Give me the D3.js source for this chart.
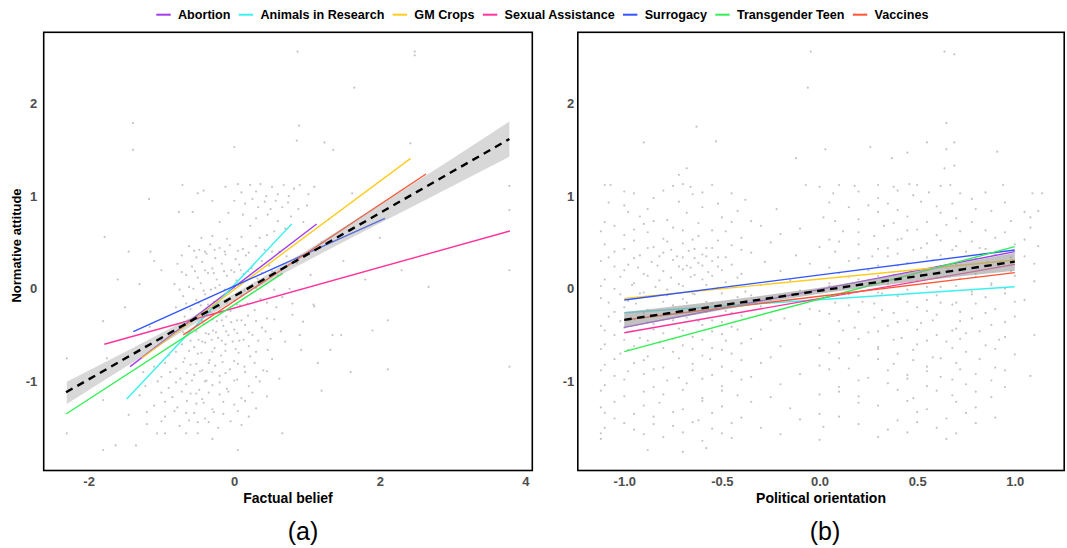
<!DOCTYPE html>
<html><head><meta charset="utf-8">
<script src="https://cdn.jsdelivr.net/npm/d3@7"></script>
<style>body{margin:0;background:#fff;} svg{display:block;font-family:"Liberation Sans",Arial,Helvetica,sans-serif;}</style>
</head><body><svg id="chart" width="1067" height="548"></svg>
<script>
// ---------- data ----------
const topics = ["Abortion","Animals in Research","GM Crops","Sexual Assistance","Surrogacy","Transgender Teen","Vaccines"];
const topicColors = ["#A23BEC","#3DF0F0","#FFCC22","#FF3399","#3355FF","#33EE55","#FF5533"];

// panel (a): per-topic fits, Factual belief -> Normative attitude
const beliefFitX = [[-1.431,1.133],[-1.477,0.790],[-1.271,2.424],[-1.784,3.788],[-1.386,2.071],[-2.310,0.666],[-0.699,2.635]];
const beliefFitY = [[-0.840,0.699],[-1.189,0.699],[-0.750,1.408],[-0.599,0.624],[-0.462,0.761],[-1.351,0.167],[-0.498,1.239]];
const beliefOverallX = [-2.31, 3.78];
const beliefOverallY = [-1.117, 1.616];
const beliefBandX  = [-2.3,-1.5,-1,-0.5,0,0.5,1,1.5,2,2.5,3,3.78];
const beliefBandLo = [-1.243,-0.847,-0.601,-0.358,-0.126,0.092,0.301,0.505,0.708,0.908,1.109,1.426];
const beliefBandHi = [-1.003,-0.681,-0.477,-0.270,-0.054,0.176,0.417,0.661,0.908,1.156,1.405,1.806];

// panel (b): per-topic fits, Political orientation -> Normative attitude
const politicsFitX = [[-1,1],[-1,1],[-1,1],[-1,1],[-1,1],[-1,1],[-1,1]];
const politicsFitY = [[-0.416,0.401],[-0.258,0.022],[-0.103,0.311],[-0.474,0.264],[-0.121,0.419],[-0.678,0.455],[-0.337,0.174]];
const politicsOverallX = [-1, 1];
const politicsOverallY = [-0.335, 0.293];
const politicsBandX  = [-1,-0.75,-0.5,-0.25,0,0.25,0.5,0.75,1];
const politicsBandLo = [-0.420,-0.323,-0.228,-0.138,-0.053,0.018,0.081,0.140,0.196];
const politicsBandHi = [-0.250,-0.191,-0.128,-0.062,0.011,0.098,0.191,0.290,0.390];

const beliefTicks = [-2,0,2,4];
const politicsTicks = [-1,-0.5,0,0.5,1];
const attitudeTicks = [-1,0,1,2];
const xTitles = ["Factual belief","Political orientation"];
const yTitle = "Normative attitude";
const panelLabels = ["(a)","(b)"];

const beliefPoints = [
[0.87,2.56],[2.48,2.56],[2.48,2.52],[1.65,2.17],[-1.39,1.79],[-1.39,1.5],[0.89,1.76],[0.86,1.6],[1.24,1.58],[1.36,1.5],[0,1.53],[2.42,1.57],[1.62,1.03],[-1.78,0.56],[3.78,1.11],[3.78,0.85],[3.78,0.2],[3.78,-0.84],[2.11,-0.87],[2.67,0.02],[2.11,-0.34],[-1.17,0.97],[-1.15,0.4],[-0.71,1.12],[-0.5,1.03],[-0.57,0.83],[-0.76,0.83],
[-0.12,1.1],[0.05,1.13],[0.1,1.04],[0.22,1.12],[0.3,1.05],[0.36,1.13],[0.44,1.0],[0.52,1.1],[0.6,1.02],[0.68,1.12],[0.75,1.0],[0.82,1.08],[0.9,1.12],[1.02,1.02],[1.1,1.1],[0.0,0.95],[0.15,0.92],[0.25,0.97],[0.33,0.88],[0.42,0.94],[0.5,0.86],[0.57,0.95],[0.66,0.88],[0.74,0.93],[0.88,0.86],[1.0,0.9],[0.12,0.8],[0.3,0.76],[0.46,0.8],[0.6,0.73],[0.78,0.78],[0.95,0.72],[-0.08,0.82],[0.22,0.68],[0.55,0.62],[0.7,0.65],[-0.3,0.95],[-0.42,1.06],[-0.2,0.72],
[-0.62,0.46],[-0.48,0.42],[-0.33,0.48],[-0.2,0.44],[-0.06,0.47],[0.12,0.43],[0.3,0.46],[0.52,0.4],
[-0.72,0.36],[-0.52,0.34],[-0.38,0.38],[-0.26,0.33],[-0.12,0.37],[0.02,0.32],[0.16,0.36],[0.38,0.3],[0.72,0.35],
[-0.78,0.27],[-0.58,0.24],[-0.44,0.29],[-0.3,0.22],[-0.17,0.27],[-0.04,0.2],[0.07,0.26],[0.24,0.22],[0.48,0.25],[0.86,0.28],
[-0.66,0.15],[-0.5,0.12],[-0.36,0.17],[-0.24,0.1],[-0.1,0.14],[0.03,0.09],[0.13,0.16],[0.32,0.11],[0.6,0.14],
[-0.82,0.05],[-0.62,0.02],[-0.46,0.06],[-0.32,-0.01],[-0.2,0.04],[-0.07,-0.03],[0.06,0.03],[0.2,-0.02],[0.44,0.05],[0.76,0.0],
[-0.7,-0.08],[-0.52,-0.12],[-0.4,-0.06],[-0.28,-0.14],[-0.16,-0.09],[0.0,-0.13],[0.1,-0.07],[0.36,-0.11],[0.66,-0.09],
[-0.8,-0.2],[-0.6,-0.22],[-0.46,-0.18],[-0.33,-0.25],[-0.2,-0.2],[-0.05,-0.24],[0.08,-0.18],[0.28,-0.23],[0.58,-0.2],[1.1,-0.19],
[-0.68,-0.3],[-0.5,-0.33],[-0.37,-0.28],[-0.24,-0.35],[-0.11,-0.3],[0.04,-0.34],[0.19,-0.29],[0.45,-0.32],[0.8,-0.28],
[-0.75,-0.4],[-0.56,-0.43],[-0.42,-0.38],[-0.29,-0.45],[-0.15,-0.4],[0.0,-0.44],[0.15,-0.39],[0.38,-0.42],[0.64,-0.46],
[-0.64,-0.5],[-0.49,-0.55],[-0.35,-0.49],[-0.22,-0.53],[-0.08,-0.5],[0.07,-0.56],[0.25,-0.5],[0.5,-0.54],[0.9,-0.5],
[-0.72,-0.6],[-0.55,-0.63],[-0.4,-0.58],[-0.27,-0.64],[-0.12,-0.6],[0.02,-0.65],[0.2,-0.62],[0.46,-0.66],
[-0.9,-0.72],[-0.68,-0.75],[-0.5,-0.7],[-0.34,-0.77],[-0.18,-0.72],[0.0,-0.78],[0.22,-0.73],[0.52,-0.76],
[-1.1,-0.84],[-0.8,-0.86],[-0.6,-0.82],[-0.44,-0.88],[-0.26,-0.83],[-0.06,-0.87],[0.14,-0.84],[0.4,-0.88],
[-1.0,-0.95],[-0.74,-0.97],[-0.55,-0.93],[-0.38,-0.99],[-0.2,-0.94],[0.04,-0.98],[0.3,-0.95],[0.62,-0.97],
[-1.22,-1.05],[-0.9,-1.07],[-0.66,-1.03],[-0.48,-1.09],[-0.3,-1.04],[-0.1,-1.08],[0.2,-1.05],
[-1.3,-1.15],[-0.85,-1.17],[-0.6,-1.13],[-0.44,-1.19],[-0.2,-1.14],[0.1,-1.18],[0.45,-1.16],
[-1.1,-1.26],[-0.78,-1.28],[-0.52,-1.24],[-0.3,-1.3],[0.0,-1.25],[0.3,-1.29],
[-1.45,-1.36],[-0.95,-1.38],[-0.66,-1.34],[-0.4,-1.4],[-0.15,-1.35],[0.2,-1.38],
[-1.2,-1.46],[-0.75,-1.48],[-0.5,-1.44],[-0.22,-1.5],[0.1,-1.47],
[-1.06,-1.56],[-0.95,-1.56],[-0.66,-1.56],[-0.5,-1.56],[0.66,-1.56],[-2.3,-1.56],
[-1.8,-1.74],[-1.63,-1.69],[-1.35,-1.69],[0.05,-1.74],[-0.3,-1.62],
[-1.8,-1.2],[-1.8,-0.35],[-1.16,-0.41],[-1.5,-0.2],[-1.3,0.05],[-1.1,0.3],[-1.45,0.4],[-1.0,-0.55],[-1.75,-0.75],[-2.3,-0.75],[-1.0,0.2],[-1.25,-0.9],[-1.6,0.1],
[0.92,-0.66],[1.32,-0.66],[1.09,-0.17],[0.945,-0.355],[1.47,-0.5],[1.2,0.5],[1.5,0.3],[1.35,-0.5],[1.8,0.1],[1.3,0.75],[2.0,0.55],[1.15,-0.8],[1.9,-0.45],[2.3,0.2],[1.05,0.15],[1.6,-0.9],[1.2,-1.1],
[-0.55,0.41],[-0.4,0.4],[-0.27,0.42],[-0.13,0.4],[0.05,0.41],[0.2,0.39],[0.42,0.42],[0.62,0.4],
[-0.45,0.55],[-0.3,0.57],[-0.1,0.54],[0.1,0.56],[0.35,0.55],[0.45,0.58],
[-0.72,0.18],[-0.54,0.19],[-0.4,0.2],[-0.28,0.17],[-0.14,0.19],[0.0,0.18],[0.09,0.2],[0.19,0.19],[0.38,0.17],[0.52,0.19],
[-0.75,-0.01],[-0.56,0.0],[-0.42,-0.02],[-0.26,0.01],[-0.13,-0.01],[0.01,0.0],[0.14,-0.02],[0.3,0.01],[0.55,-0.01],
[-0.66,-0.16],[-0.49,-0.15],[-0.36,-0.17],[-0.24,-0.16],[-0.1,-0.15],[0.04,-0.17],[0.18,-0.16],[0.45,-0.15],[0.8,-0.16],
[-0.62,-0.34],[-0.44,-0.35],[-0.3,-0.33],[-0.17,-0.34],[-0.04,-0.36],[0.1,-0.34],[0.3,-0.35],[0.55,-0.33],
[-0.7,-0.47],[-0.52,-0.46],[-0.39,-0.48],[-0.25,-0.47],[-0.11,-0.46],[0.04,-0.48],[0.2,-0.47],[0.43,-0.46],
[-0.6,-0.56],[-0.44,-0.57],[-0.31,-0.55],[-0.17,-0.56],[-0.02,-0.57],[0.13,-0.55],[0.33,-0.56],[0.7,-0.57],
[-0.8,-0.68],[-0.62,-0.67],[-0.45,-0.69],[-0.3,-0.68],[-0.12,-0.67],[0.06,-0.69],[0.3,-0.68],
[-0.95,-0.8],[-0.7,-0.79],[-0.52,-0.81],[-0.35,-0.8],[-0.16,-0.79],[0.05,-0.81],[0.28,-0.8],
[-0.88,-0.9],[-0.65,-0.91],[-0.47,-0.89],[-0.3,-0.9],[-0.12,-0.91],[0.15,-0.9],[0.45,-0.89],
[-1.05,-1.0],[-0.8,-1.01],[-0.58,-0.99],[-0.4,-1.0],[-0.2,-1.01],[0.0,-0.99],[0.35,-1.0],
[-1.0,-1.12],[-0.72,-1.11],[-0.52,-1.13],[-0.35,-1.12],[-0.08,-1.11],[0.25,-1.12],
[-0.95,-1.22],[-0.65,-1.21],[-0.42,-1.23],[-0.15,-1.22],[0.15,-1.21],
[-1.2,-1.33],[-0.82,-1.32],[-0.55,-1.34],[-0.28,-1.33],[0.05,-1.32],
[-1.0,-1.43],[-0.62,-1.42],[-0.35,-1.44],[-0.05,-1.43]
];

const politicsPoints = [
[-0.045,2.56],[-0.06,2.17],[0.64,2.56],[0.69,2.53],[0.65,1.79],[-0.63,1.75],[-0.90,1.58],[-0.53,1.59],[0.03,1.505],[0.26,1.53],[0.55,1.58],[0.69,1.58],[0.65,1.505],[0.91,1.48],[-0.12,1.41],[0.45,1.47],[0.37,1.41],[-0.72,1.23],[-0.68,1.3],[0.69,1.33],[0.64,1.3],[1.09,1.03],[1.14,1.03],[1.12,0.84],[1.08,0.77],
[-1.1,1.12],[-1.07,1.12],[-0.75,1.11],[-0.7,1.13],[-0.66,1.1],[-0.55,1.12],[-0.07,1.12],[0.0,1.1],[0.1,1.12],[0.18,1.11],[0.3,1.12],[0.38,1.1],[0.46,1.13],[0.5,1.12],[0.62,1.11],[0.67,1.12],[0.94,1.12],
[-0.95,1.03],[-0.85,0.98],[-0.65,1.02],[-0.45,1.03],[-0.38,0.96],[0.07,1.03],[0.3,0.98],[0.48,1.01],[0.72,1.03],[0.78,0.97],[0.56,1.04],
[-1.0,0.9],[-0.88,0.86],[-0.6,0.88],[-0.22,0.86],[0.15,0.88],[0.25,0.9],[0.4,0.85],[0.6,0.89],[0.8,0.86],[0.35,0.92],
[-0.92,0.78],[-0.78,0.74],[-0.5,0.77],[-0.35,0.73],[0.02,0.77],[0.2,0.75],[0.45,0.78],[0.55,0.72],[0.7,0.76],
[-1.05,0.68],[-0.95,0.64],[-0.9,0.7],[-0.75,0.66],[-0.55,0.63],[-0.3,0.68],[-0.1,0.65],[0.12,0.62],[0.33,0.68],[0.5,0.64],[0.65,0.69],[0.85,0.63],[1.08,0.66],
[-1.0,0.58],[-0.8,0.54],[-0.62,0.57],[-0.4,0.55],[-0.2,0.59],[0.05,0.53],[0.28,0.57],[0.42,0.54],[0.6,0.58],[0.9,0.55],
[-1.1,0.48],[-0.85,0.45],[-0.7,0.49],[-0.58,0.44],[-0.45,0.47],[-0.25,0.5],[0.0,0.45],[0.2,0.48],[0.35,0.44],[0.55,0.49],[0.7,0.46],[0.82,0.44],[1.0,0.48],[1.12,0.46],
[-1.05,0.4],[-0.92,0.36],[-0.8,0.39],[-0.73,0.35],[-0.67,0.41],[-0.6,0.37],[-0.52,0.34],[-0.35,0.39],[-0.12,0.36],[0.08,0.4],[0.27,0.35],[0.4,0.38],[0.48,0.42],[0.62,0.36],[0.75,0.4],[0.9,0.37],[1.05,0.35],
[-1.12,0.3],[-0.98,0.26],[-0.86,0.29],[-0.75,0.31],[-0.68,0.25],[-0.62,0.28],[-0.55,0.3],[-0.45,0.26],[-0.28,0.29],[-0.05,0.27],[0.15,0.3],[0.3,0.25],[0.45,0.28],[0.58,0.31],[0.7,0.26],[0.86,0.29],[1.1,0.27],
[-1.0,0.2],[-0.9,0.16],[-0.8,0.19],[-0.7,0.21],[-0.64,0.15],[-0.57,0.18],[-0.5,0.2],[-0.4,0.16],[-0.2,0.19],[0.1,0.17],[0.25,0.2],[0.38,0.15],[0.52,0.18],[0.66,0.21],[0.8,0.16],[0.98,0.19],
[-1.1,0.1],[-0.95,0.06],[-0.82,0.09],[-0.72,0.05],[-0.6,0.1],[-0.48,0.07],[-0.3,0.04],[-0.15,0.09],[0.05,0.06],[0.2,0.1],[0.35,0.05],[0.5,0.08],[0.72,0.11],[0.88,0.06],[1.1,0.08],
[-1.05,0.0],[-0.9,-0.04],[-0.78,-0.01],[-0.65,-0.05],[-0.52,0.01],[-0.38,-0.03],[-0.1,-0.02],[0.12,0.0],[0.3,-0.04],[0.45,-0.01],[0.62,0.02],[0.78,-0.03],[0.95,0.0],
[-1.12,-0.1],[-0.98,-0.13],[-0.85,-0.08],[-0.7,-0.11],[-0.58,-0.14],[-0.42,-0.09],[-0.25,-0.12],[0.02,-0.1],[0.22,-0.14],[0.4,-0.08],[0.55,-0.12],[0.7,-0.15],[0.85,-0.09],[1.05,-0.12],
[-1.0,-0.2],[-0.88,-0.23],[-0.75,-0.18],[-0.62,-0.21],[-0.48,-0.24],[-0.3,-0.19],[-0.05,-0.22],[0.15,-0.18],[0.32,-0.23],[0.5,-0.2],[0.68,-0.17],[0.9,-0.22],
[-1.08,-0.3],[-0.95,-0.33],[-0.8,-0.28],[-0.68,-0.31],[-0.55,-0.34],[-0.4,-0.29],[-0.18,-0.32],[0.05,-0.27],[0.28,-0.31],[0.45,-0.34],[0.6,-0.28],[0.78,-0.32],[1.0,-0.3],
[-1.12,-0.4],[-1.0,-0.42],[-0.85,-0.38],[-0.72,-0.43],[-0.6,-0.39],[-0.45,-0.41],[-0.3,-0.44],[-0.1,-0.38],[0.18,-0.42],[0.35,-0.4],[0.52,-0.37],[0.7,-0.43],[0.88,-0.39],
[-1.05,-0.5],[-0.92,-0.53],[-0.8,-0.48],[-0.65,-0.52],[-0.5,-0.49],[-0.35,-0.54],[0.0,-0.5],[0.25,-0.47],[0.42,-0.53],[0.6,-0.5],[0.75,-0.48],[0.95,-0.52],[1.1,-0.5],
[-1.1,-0.6],[-0.95,-0.62],[-0.82,-0.58],[-0.7,-0.61],[-0.55,-0.64],[-0.4,-0.59],[-0.2,-0.62],[0.1,-0.58],[0.3,-0.63],[0.5,-0.6],[0.65,-0.57],[0.85,-0.61],
[-1.02,-0.7],[-0.88,-0.73],[-0.75,-0.68],[-0.6,-0.72],[-0.45,-0.7],[-0.25,-0.74],[0.05,-0.69],[0.2,-0.72],[0.4,-0.7],[0.58,-0.74],[0.75,-0.68],[1.0,-0.71],
[-1.1,-0.82],[-0.95,-0.8],[-0.8,-0.85],[-0.65,-0.81],[-0.5,-0.84],[-0.3,-0.8],[0.0,-0.83],[0.15,-0.86],[0.38,-0.81],[0.55,-0.84],[0.7,-0.8],[0.9,-0.85],
[-1.05,-0.94],[-0.9,-0.92],[-0.72,-0.96],[-0.55,-0.93],[-0.35,-0.95],[-0.1,-0.92],[0.25,-0.96],[0.45,-0.93],[0.62,-0.95],[0.8,-0.92],[1.08,-0.94],
[-1.1,-1.04],[-0.85,-1.06],[-0.68,-1.02],[-0.5,-1.05],[-0.2,-1.03],[0.1,-1.06],[0.35,-1.02],[0.55,-1.05],[0.75,-1.03],[0.95,-1.06],
[-1.0,-1.16],[-0.8,-1.14],[-0.6,-1.18],[-0.42,-1.15],[-0.25,-1.17],[0.0,-1.14],[0.2,-1.16],[0.48,-1.18],[0.68,-1.15],[0.88,-1.17],
[-1.12,-1.28],[-0.9,-1.26],[-0.7,-1.3],[-0.5,-1.27],[-0.15,-1.29],[0.3,-1.26],[0.55,-1.3],[0.8,-1.28],
[-1.05,-1.4],[-0.85,-1.38],[-0.62,-1.42],[-0.4,-1.39],[-0.1,-1.41],[0.1,-1.38],[0.4,-1.42],[0.65,-1.4],[0.9,-1.39],
[-1.1,-1.5],[-0.95,-1.52],[-0.75,-1.48],[-0.55,-1.51],[-0.3,-1.5],[0.02,-1.49],[0.35,-1.52],[0.6,-1.5],
[-1.12,-1.62],[-0.8,-1.6],[-0.6,-1.64],[-0.45,-1.61],[0.0,-1.63],[0.3,-1.6],[0.65,-1.62],
[-0.88,-1.74],[-0.7,-1.76],[-0.58,-1.72],
[-1.0,1.05],[-0.8,1.06],[-0.6,1.04],[0.2,1.05],[0.4,1.06],[0.85,1.04],
[-1.08,0.93],[-0.72,0.94],[-0.52,0.92],[0.05,0.93],[0.52,0.94],[0.68,0.92],[0.95,0.93],
[-0.98,0.83],[-0.68,0.82],[-0.42,0.84],[0.3,0.83],[0.62,0.82],[0.88,0.84],[1.05,0.83],
[-1.1,0.72],[-0.85,0.73],[-0.62,0.71],[-0.45,0.72],[0.08,0.73],[0.38,0.71],[0.78,0.72],[0.98,0.73],
[-1.12,0.62],[-0.88,0.61],[-0.7,0.63],[-0.48,0.62],[0.2,0.61],[0.45,0.63],[0.72,0.62],[0.95,0.61],
[-0.95,0.52],[-0.78,0.51],[-0.65,0.53],[-0.52,0.52],[0.1,0.51],[0.4,0.53],[0.62,0.52],[0.78,0.51],[1.05,0.53],
[-1.0,0.43],[-0.88,0.44],[-0.76,0.42],[-0.64,0.43],[-0.55,0.44],[-0.4,0.42],[0.3,0.43],[0.52,0.44],[0.68,0.42],[0.85,0.43],
[-1.08,0.34],[-0.95,0.33],[-0.82,0.35],[-0.7,0.34],[-0.64,0.33],[-0.58,0.35],[-0.48,0.34],[0.2,0.33],[0.35,0.35],[0.55,0.34],[0.8,0.33],[0.98,0.34],
[-1.05,0.24],[-0.93,0.23],[-0.83,0.25],[-0.72,0.24],[-0.66,0.23],[-0.6,0.25],[-0.52,0.24],[0.05,0.23],[0.4,0.25],[0.62,0.24],[0.75,0.23],[0.92,0.25],
[-1.02,0.13],[-0.88,0.14],[-0.76,0.12],[-0.66,0.13],[-0.55,0.14],[-0.42,0.12],[0.15,0.13],[0.3,0.14],[0.6,0.12],[0.8,0.13],[1.0,0.14],
[-1.12,0.03],[-0.96,0.04],[-0.84,0.02],[-0.7,0.03],[-0.58,0.04],[-0.45,0.02],[0.05,0.03],[0.25,0.04],[0.55,0.02],[0.7,0.03],[0.88,0.04],
[-1.02,-0.06],[-0.92,-0.05],[-0.78,-0.07],[-0.64,-0.06],[-0.5,-0.05],[-0.35,-0.07],[0.15,-0.06],[0.32,-0.05],[0.6,-0.07],[0.78,-0.06],[0.95,-0.05],
[-1.08,-0.15],[-0.94,-0.16],[-0.8,-0.14],[-0.68,-0.15],[-0.55,-0.16],[-0.38,-0.14],[0.08,-0.15],[0.28,-0.16],[0.45,-0.14],[0.62,-0.15],[0.8,-0.16],[1.0,-0.14],
[-1.05,-0.25],[-0.9,-0.26],[-0.72,-0.24],[-0.58,-0.25],[-0.45,-0.26],[0.0,-0.24],[0.2,-0.25],[0.38,-0.26],[0.55,-0.24],[0.72,-0.25],[0.85,-0.26],
[-1.02,-0.35],[-0.88,-0.36],[-0.75,-0.34],[-0.62,-0.35],[-0.5,-0.36],[-0.25,-0.34],[0.1,-0.35],[0.4,-0.36],[0.58,-0.34],[0.72,-0.35],[0.95,-0.36],
[-1.1,-0.45],[-0.96,-0.46],[-0.85,-0.44],[-0.7,-0.45],[-0.55,-0.46],[-0.42,-0.44],[0.12,-0.45],[0.3,-0.46],[0.5,-0.44],[0.68,-0.45],[0.82,-0.46],
[-1.0,-0.55],[-0.88,-0.56],[-0.75,-0.54],[-0.6,-0.55],[-0.48,-0.56],[0.2,-0.54],[0.38,-0.55],[0.55,-0.56],[0.72,-0.54],[0.92,-0.55],
[-1.12,-0.65],[-0.98,-0.66],[-0.8,-0.64],[-0.65,-0.65],[-0.5,-0.66],[0.0,-0.64],[0.3,-0.65],[0.48,-0.66],[0.68,-0.64],[0.9,-0.65],
[-1.05,-0.76],[-0.9,-0.77],[-0.72,-0.75],[-0.56,-0.76],[-0.4,-0.77],[0.1,-0.75],[0.3,-0.76],[0.48,-0.77],[0.62,-0.75],[0.82,-0.76],
[-1.12,-0.88],[-0.98,-0.89],[-0.85,-0.87],[-0.65,-0.88],[-0.45,-0.89],[0.05,-0.87],[0.35,-0.88],[0.55,-0.89],[0.72,-0.87],[0.95,-0.88],
[-1.0,-0.98],[-0.78,-0.99],[-0.6,-0.97],[-0.4,-0.98],[0.2,-0.99],[0.45,-0.97],[0.68,-0.98],[0.88,-0.99],
[-1.12,-1.1],[-0.9,-1.11],[-0.7,-1.09],[-0.5,-1.1],[0.1,-1.11],[0.4,-1.09],[0.6,-1.1],[0.8,-1.11],
[-1.05,-1.22],[-0.82,-1.23],[-0.6,-1.21],[-0.35,-1.22],[0.2,-1.23],[0.45,-1.21],[0.7,-1.22],
[-1.1,-1.34],[-0.95,-1.35],[-0.75,-1.33],[-0.55,-1.34],[0.0,-1.35],[0.5,-1.33],[0.75,-1.34],
[-1.0,-1.45],[-0.85,-1.46],[-0.65,-1.44],[-0.45,-1.45],[0.2,-1.46],[0.5,-1.44],[0.8,-1.45],
[-1.12,-1.56],[-0.9,-1.57],[-0.7,-1.55],[-0.5,-1.56],[-0.2,-1.57],[0.45,-1.55],[0.7,-1.56]
];

// ---------- drawing ----------
const svg = d3.select("#chart");
const plotTop = 32.3, plotBottom = 470.5;
const yScale = d3.scaleLinear().domain([-1.961, 2.768]).range([plotBottom, plotTop]);

const panels = [
  { x: d3.scaleLinear().domain([-2.617, 4.095]).range([43.7, 532.3]),
    ticks: beliefTicks, fmt: d => String(d), ylabPad: 6.4,
    points: beliefPoints, fitX: beliefFitX, fitY: beliefFitY,
    oX: beliefOverallX, oY: beliefOverallY,
    bX: beliefBandX, bLo: beliefBandLo, bHi: beliefBandHi, bandOpacity: 0.38,
    title: xTitles[0], label: panelLabels[0], labelX: 303 },
  { x: d3.scaleLinear().domain([-1.238, 1.253]).range([577.8, 1064.2]),
    ticks: politicsTicks, fmt: d => d.toFixed(1), ylabPad: 3.5,
    points: politicsPoints, fitX: politicsFitX, fitY: politicsFitY,
    oX: politicsOverallX, oY: politicsOverallY,
    bX: politicsBandX, bLo: politicsBandLo, bHi: politicsBandHi, bandOpacity: 0.6,
    title: xTitles[1], label: panelLabels[1], labelX: 825 }
];

panels.forEach(p => {
  const g = svg.append("g");
  const [x0, x1] = p.x.range();

  g.append("g").selectAll("circle").data(p.points).join("circle")
    .attr("cx", d => p.x(d[0])).attr("cy", d => yScale(d[1]))
    .attr("r", 1.1).attr("fill", "#c4c4c4");

  g.append("g").selectAll("line").data(topics).join("line")
    .attr("x1", (d, i) => p.x(p.fitX[i][0])).attr("x2", (d, i) => p.x(p.fitX[i][1]))
    .attr("y1", (d, i) => yScale(p.fitY[i][0])).attr("y2", (d, i) => yScale(p.fitY[i][1]))
    .attr("stroke", (d, i) => topicColors[i]).attr("stroke-width", 1.4);

  const band = p.bX.map((v, i) => ({ x: v, lo: p.bLo[i], hi: p.bHi[i] }));
  g.append("path").datum(band)
    .attr("d", d3.area().x(d => p.x(d.x)).y0(d => yScale(d.lo)).y1(d => yScale(d.hi)))
    .attr("fill", "#999999").attr("opacity", p.bandOpacity);

  g.append("path").datum(p.oX.map((v, i) => [v, p.oY[i]]))
    .attr("d", d3.line().x(d => p.x(d[0])).y(d => yScale(d[1])))
    .attr("fill", "none").attr("stroke", "#000").attr("stroke-width", 2.4)
    .attr("stroke-dasharray", "7.5,5.5");

  g.append("rect").attr("x", x0).attr("y", plotTop).attr("width", x1 - x0).attr("height", plotBottom - plotTop)
    .attr("fill", "none").attr("stroke", "#000").attr("stroke-width", 1.6);

  const xa = g.append("g").attr("transform", `translate(0,${plotBottom})`)
    .call(d3.axisBottom(p.x).tickValues(p.ticks).tickFormat(p.fmt).tickSize(0).tickPadding(5.8));
  xa.select(".domain").remove();
  xa.selectAll("text").attr("font-size", 13).attr("font-weight", "bold").attr("fill", "#4D4D4D")
    .attr("font-family", '"Liberation Sans",Arial,sans-serif');

  const ya = g.append("g").attr("transform", `translate(${x0},0)`)
    .call(d3.axisLeft(yScale).tickValues(attitudeTicks).tickFormat(d => String(d)).tickSize(0).tickPadding(p.ylabPad));
  ya.select(".domain").remove();
  ya.selectAll("text").attr("font-size", 13).attr("font-weight", "bold").attr("fill", "#4D4D4D")
    .attr("font-family", '"Liberation Sans",Arial,sans-serif');

  g.append("text").attr("x", (x0 + x1) / 2).attr("y", 502.5).attr("text-anchor", "middle")
    .attr("font-size", 14).attr("font-weight", "bold").attr("fill", "#000").text(p.title);

  g.append("text").attr("x", p.labelX).attr("y", 540).attr("text-anchor", "middle")
    .attr("font-size", 25).attr("fill", "#000").text(p.label);
});

svg.append("text").attr("transform", "translate(21,245.5) rotate(-90)").attr("text-anchor", "middle")
  .attr("font-size", 13).attr("font-weight", "bold").attr("fill", "#000").text(yTitle);

const leg = svg.append("g");
let lx = 156.3;
topics.forEach((t, i) => {
  leg.append("line").attr("x1", lx).attr("x2", lx + 14.4).attr("y1", 14.7).attr("y2", 14.7)
    .attr("stroke", topicColors[i]).attr("stroke-width", 2);
  const tx = leg.append("text").attr("x", lx + 21.7).attr("y", 18.8)
    .attr("font-size", 12.6).attr("font-weight", "bold").attr("fill", "#000").text(t);
  lx = lx + 21.7 + tx.node().getComputedTextLength() + 8.3;
});
</script></body></html>
